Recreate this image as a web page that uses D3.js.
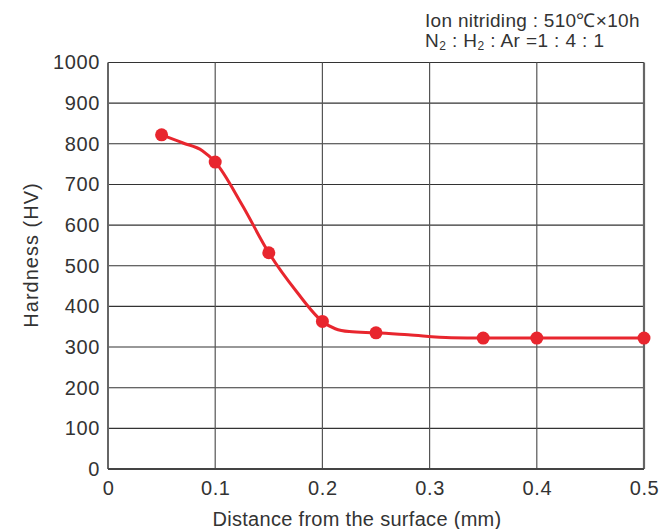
<!DOCTYPE html>
<html><head><meta charset="utf-8">
<script src="https://cdn.jsdelivr.net/npm/d3@7"></script>
<style>body{margin:0;background:#fff}svg{display:block}text{font-family:"Liberation Sans",Arial,sans-serif;fill:#333}</style>
</head><body><div id="chart"></div>
<script>
// measured points (markers)
const distance = [0.05, 0.1, 0.15, 0.2, 0.25, 0.35, 0.4, 0.5];
const hardness = [822, 755, 532, 363, 335, 322, 322, 322];
// hand-drawn curve trace
const traceX = [0.05, 0.07, 0.088, 0.1, 0.125, 0.15, 0.176, 0.2, 0.212, 0.225, 0.25, 0.28, 0.32, 0.35, 0.4, 0.5];
const traceY = [822, 802, 783, 755, 650, 532, 436, 363, 345, 338, 335, 330, 323, 322, 322, 322];
const xTicks = [0, 0.1, 0.2, 0.3, 0.4, 0.5];
const xTickLabels = ["0", "0.1", "0.2", "0.3", "0.4", "0.5"];
const yTicks = [0, 100, 200, 300, 400, 500, 600, 700, 800, 900, 1000];
const xTitle = "Distance from the surface (mm)";
const yTitle = "Hardness (HV)";
const note1 = "Ion nitriding : 510℃×10h";

const W = 665, H = 529;
const m = {l: 108, r: 644, t: 62.5, b: 469};
const FONT = '"Liberation Sans",Arial,sans-serif';
const svg = d3.select("#chart").append("svg").attr("width", W).attr("height", H);
const x = d3.scaleLinear().domain([0, 0.5]).range([m.l, m.r]);
const y = d3.scaleLinear().domain([0, 1000]).range([m.b, m.t]);

// grid
const g = svg.append("g");
g.selectAll(".hg").data(yTicks.slice(1)).join("line")
  .attr("x1", m.l).attr("x2", m.r).attr("y1", d => y(d)).attr("y2", d => y(d))
  .attr("stroke", "#333").attr("stroke-width", 1.1);
g.selectAll(".vg").data(xTicks.slice(1, -1)).join("line")
  .attr("y1", m.t).attr("y2", m.b).attr("x1", d => x(d)).attr("x2", d => x(d))
  .attr("stroke", "#555").attr("stroke-width", 1.2);
// frame
g.append("line").attr("x1", m.r).attr("x2", m.r).attr("y1", m.t).attr("y2", m.b).attr("stroke", "#666").attr("stroke-width", 2.2);
g.append("line").attr("x1", m.l).attr("x2", m.l).attr("y1", m.t).attr("y2", m.b).attr("stroke", "#666").attr("stroke-width", 2);
g.append("line").attr("x1", m.l).attr("x2", m.r).attr("y1", m.b).attr("y2", m.b).attr("stroke", "#444").attr("stroke-width", 2);

// axes labels
const yAxis = d3.axisLeft(y).tickValues(yTicks).tickSize(0).tickPadding(8).tickFormat(d3.format("d"));
svg.append("g").attr("transform", `translate(${m.l},0)`).call(yAxis)
  .call(s => s.select(".domain").remove())
  .selectAll("text").style("font-size", "20px").style("letter-spacing", "0.6px").attr("fill", "#333").style("font-family", FONT);
const xAxis = d3.axisBottom(x).tickValues(xTicks).tickSize(0).tickPadding(12).tickFormat((d, i) => xTickLabels[i]);
svg.append("g").attr("transform", `translate(0,${m.b})`).call(xAxis)
  .call(s => s.select(".domain").remove())
  .selectAll("text").style("font-size", "20px").style("letter-spacing", "0.6px").attr("fill", "#333").style("font-family", FONT);

svg.append("text").attr("x", 357).attr("y", 526).attr("text-anchor", "middle")
  .style("font-size", "20px").style("letter-spacing", "0.3px").text(xTitle);
svg.append("text").attr("transform", "translate(38,255) rotate(-90)").attr("text-anchor", "middle")
  .style("font-size", "20px").style("letter-spacing", "1px").text(yTitle);

// note
svg.append("text").attr("x", 425).attr("y", 27).style("font-size", "19px").style("letter-spacing", "0.3px").text(note1);
const n2 = svg.append("text").attr("x", 425).attr("y", 47).style("font-size", "19px").style("letter-spacing", "0.4px");
n2.append("tspan").text("N");
n2.append("tspan").attr("dy", 3).style("font-size", "12px").text("2");
n2.append("tspan").attr("dy", -3).text(" :  H");
n2.append("tspan").attr("dy", 3).style("font-size", "12px").text("2");
n2.append("tspan").attr("dy", -3).text(" :  Ar =1 :  4 :  1");

// line
const red = "#e8262e";
const line = d3.line().x(d => x(d[0])).y(d => y(d[1])).curve(d3.curveMonotoneX);
svg.append("path").datum(traceX.map((v, i) => [v, traceY[i]]))
  .attr("d", line).attr("fill", "none").attr("stroke", red).attr("stroke-width", 3);
svg.selectAll(".pt").data(distance.map((v, i) => [v, hardness[i]])).join("circle")
  .attr("cx", d => x(d[0])).attr("cy", d => y(d[1])).attr("r", 6.5).attr("fill", red);
</script></body></html>
